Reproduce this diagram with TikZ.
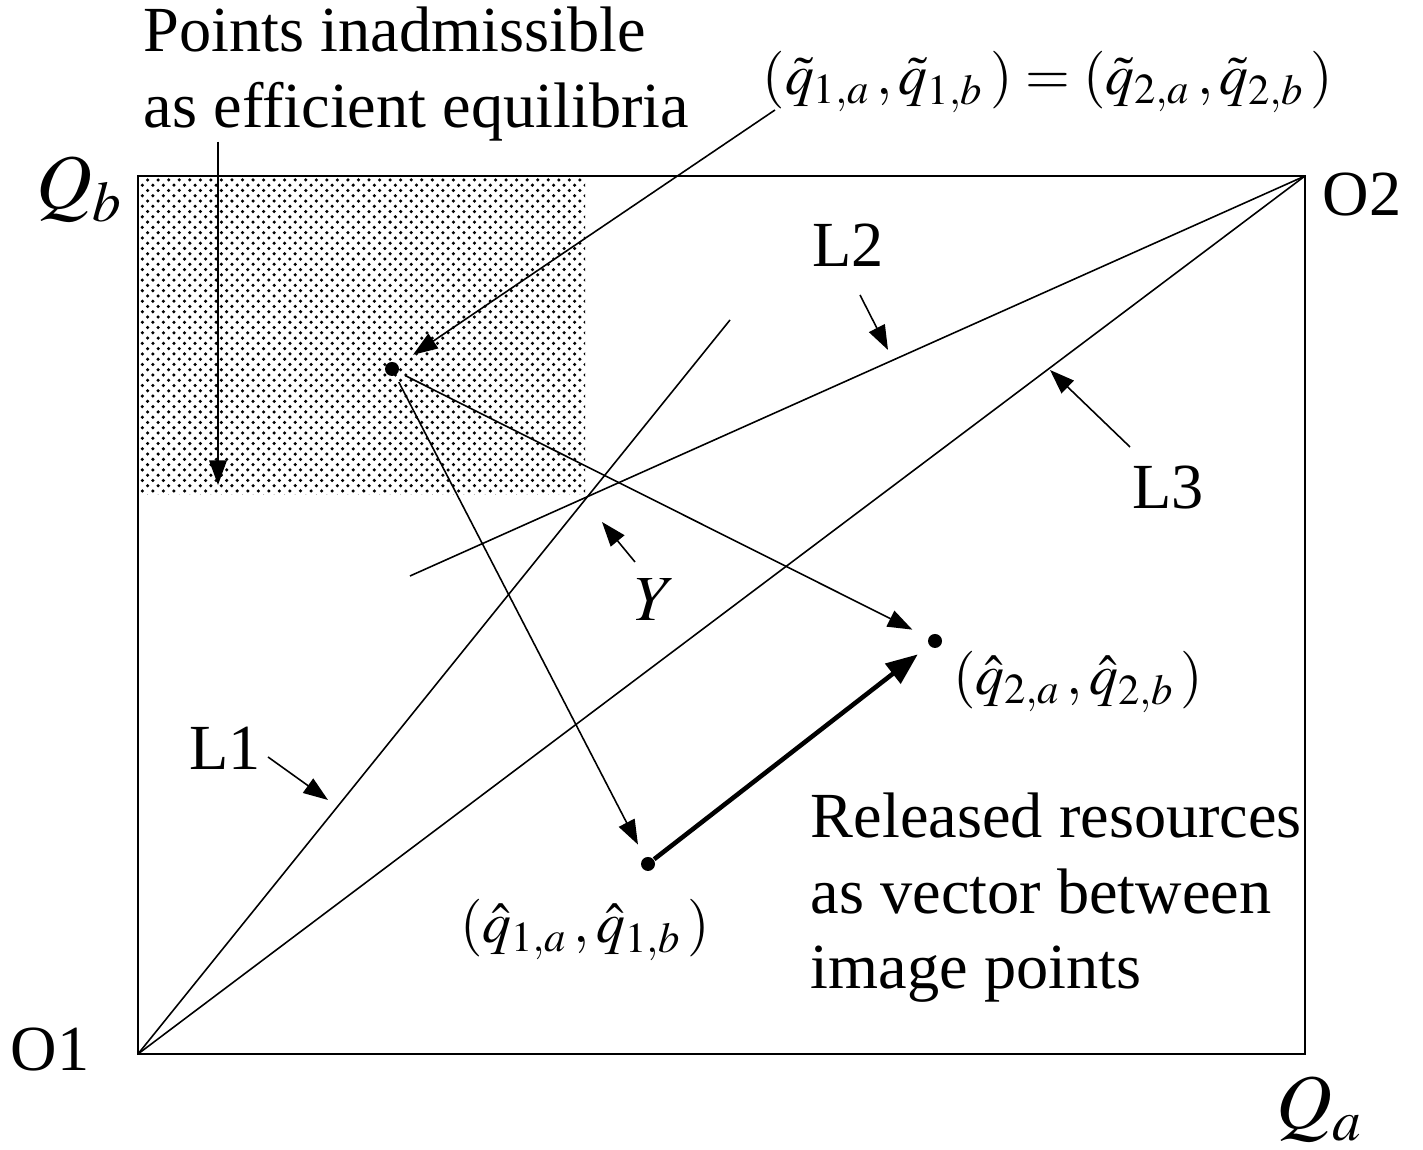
\documentclass[tikz,border=0pt]{standalone}
\usepackage{mathptmx}
\usepackage[no-math]{fontspec}
\setmainfont{Liberation Serif}
\usetikzlibrary{arrows.meta,patterns}

\tikzset{
  lbl/.style={font=\fontsize{18.3}{19.5}\selectfont, inner sep=0pt},
  mlbl/.style={font=\fontsize{16.4}{18}\selectfont, inner sep=0pt},
  axlbl/.style={font=\fontsize{22}{22}\selectfont, inner sep=0pt},
  pointer/.style={-{Triangle[length=7pt,width=5pt]}, line width=0.45pt},
  spot/.style={circle, fill=black, inner sep=0pt, minimum size=0.14cm}
}

\begin{document}
\begin{tikzpicture}[line width=0.45pt]
  \useasboundingbox (0,0) rectangle (14.23,11.5);
  % region of inadmissible points
  \fill[pattern=crosshatch dots, pattern color=black] (1.38,6.55) rectangle (5.85,9.74);
  % box and corners
  \draw (1.38,0.96) rectangle (13.05,9.74);
  \coordinate (o1) at (1.38,0.96);
  \coordinate (o2) at (13.05,9.74);
  \node[lbl] (o1lbl) at (0.50,1.00) {O1};
  \node[lbl] (o2lbl) at (13.62,9.55) {O2};
  \node[axlbl] (qb) at (0.80,9.60) {$Q_b$};
  \node[axlbl] (qa) at (13.20,0.40) {$Q_a$};
  % lines L1, L2, L3
  \coordinate (l1end) at (7.30,8.30);
  \coordinate (l2end) at (4.10,5.74);
  \draw (o1) -- (l1end);
  \draw (l2end) -- (o2);
  \draw (o1) -- (o2);
  % points
  \node[spot] (tq) at (3.92,7.81) {};
  \node[spot] (hq2) at (9.35,5.09) {};
  \node[spot] (hq1) at (6.48,2.86) {};
  \draw[pointer, shorten <=2pt, shorten >=5pt] (tq) -- (hq2);
  \draw[pointer, shorten <=2pt, shorten >=4pt] (tq) -- (hq1);
  \draw[-{Triangle[length=9pt,width=7pt]}, line width=1.3pt, shorten >=4pt] (hq1) -- (hq2);
  % labels
  \node[lbl, anchor=west, align=left] (pts) at (1.43,10.76)
    {Points inadmissible\\[2pt]as efficient equilibria};
  \coordinate (ptstip) at (2.18,6.65);
  \draw[pointer] (pts.south -| ptstip) -- (ptstip);
  \node[mlbl] (tlbl) at (10.48,10.68)
    {$(\tilde q_{1,a}\mkern2mu, \tilde q_{1,b}\mkern2mu) = (\tilde q_{2,a}\mkern2mu, \tilde q_{2,b}\mkern2mu)$};
  \coordinate (tfrom) at (7.75,10.40);
  \draw[pointer, shorten >=5pt] (tfrom) -- (tq);
  \node[mlbl] (hq2lbl) at (10.78,4.68) {$(\hat q_{2,a}\mkern2mu, \hat q_{2,b}\mkern2mu)$};
  \node[mlbl] (hq1lbl) at (5.85,2.20) {$(\hat q_{1,a}\mkern2mu, \hat q_{1,b}\mkern2mu)$};
  \node[lbl, anchor=west, align=left] (rel) at (8.10,2.52)
    {Released resources\\[2pt]as vector between\\[2pt]image points};
  \node[lbl] (l1lbl) at (2.25,4.02) {L1};
  \coordinate (l1a) at (2.68,3.93);
  \coordinate (l1b) at (3.28,3.50);
  \draw[pointer] (l1a) -- (l1b);
  \node[lbl] (l2lbl) at (8.48,9.05) {L2};
  \coordinate (l2a) at (8.60,8.55);
  \coordinate (l2b) at (8.88,8.00);
  \draw[pointer] (l2a) -- (l2b);
  \node[lbl] (l3lbl) at (11.68,6.62) {L3};
  \coordinate (l3a) at (11.30,7.03);
  \coordinate (l3b) at (10.50,7.80);
  \draw[pointer] (l3a) -- (l3b);
  \node[lbl] (ylbl) at (6.55,5.50) {$Y$};
  \coordinate (ya) at (6.35,5.88);
  \coordinate (yb) at (6.02,6.28);
  \draw[pointer] (ya) -- (yb);
\end{tikzpicture}
\end{document}
